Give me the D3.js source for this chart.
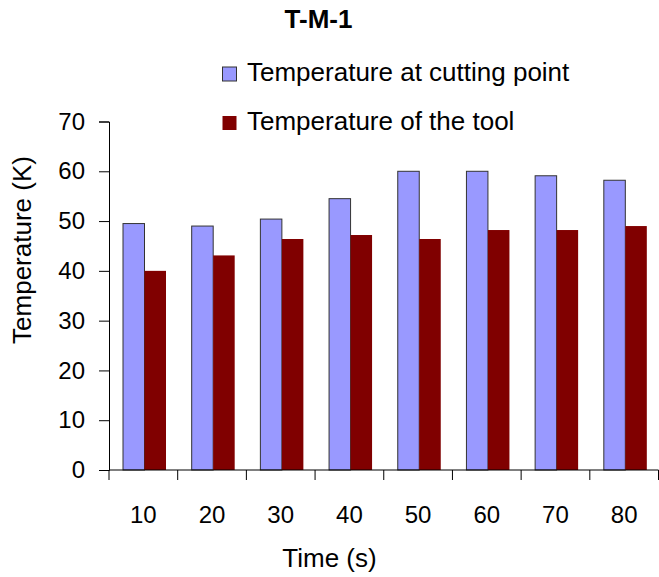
<!DOCTYPE html>
<html>
<head>
<meta charset="utf-8">
<script src="https://cdn.jsdelivr.net/npm/d3@7"></script>
<style>
  body { margin: 0; background: #fff; }
  svg text { font-family: "Liberation Sans", Arial, sans-serif; fill: #000; }
</style>
</head>
<body>
<svg id="chart" width="659" height="577"></svg>
<script>
// data
const times = ["10", "20", "30", "40", "50", "60", "70", "80"];
const cuttingPoint = [49.5, 49.0, 50.4, 54.5, 60.0, 60.0, 59.1, 58.2];
const toolTemp = [40.0, 43.1, 46.4, 47.2, 46.4, 48.2, 48.2, 49.0];
const seriesNames = ["Temperature at cutting point", "Temperature of the tool"];
const yTicks = [0, 10, 20, 30, 40, 50, 60, 70];

const colors = ["#9999ff", "#800000"];

const svg = d3.select("#chart");
const margin = { top: 121.5, left: 109, right: 0, bottom: 107 };
const width = 658.5 - margin.left - margin.right;
const height = 577 - margin.top - margin.bottom;

const g = svg.append("g").attr("transform", "translate(" + margin.left + "," + margin.top + ")");

const x = d3.scaleBand().domain(times).range([0, width]).padding(0);
const x1 = d3.scaleBand().domain([0, 1]).range([14, 57]).padding(0);
const y = d3.scaleLinear().domain([0, 70]).range([height, 0]);

// bars
const rows = times.map((t, i) => ({ t: t, vals: [cuttingPoint[i], toolTemp[i]] }));
const grp = g.selectAll(".cat").data(rows).enter().append("g")
  .attr("transform", d => "translate(" + x(d.t) + ",0)");
grp.selectAll("rect").data(d => d.vals.map((v, k) => ({ k: k, v: v }))).enter().append("rect")
  .attr("x", d => x1(d.k))
  .attr("y", d => y(d.v))
  .attr("width", x1.bandwidth())
  .attr("height", d => height - y(d.v))
  .attr("fill", d => colors[d.k])
  .attr("stroke", d => d.k === 0 ? "#333" : "none")
  .attr("stroke-width", 1);

// y axis
const yAxis = g.append("g")
  .call(d3.axisLeft(y).tickValues(yTicks).tickSize(10).tickPadding(14));
yAxis.select(".domain").attr("stroke", "#000");
yAxis.selectAll("text").style("font-size", "24px");

// x axis with ticks at category boundaries
const xAxis = g.append("g").attr("transform", "translate(0," + height + ")");
xAxis.append("line").attr("x1", 0).attr("x2", width).attr("stroke", "#000");
xAxis.selectAll(".tk").data(times.concat(["end"])).enter().append("line")
  .attr("x1", (d, i) => i * x.bandwidth()).attr("x2", (d, i) => i * x.bandwidth())
  .attr("y1", 0).attr("y2", 10).attr("stroke", "#000");
xAxis.selectAll(".lbl").data(times).enter().append("text")
  .attr("x", d => x(d) + x.bandwidth() / 2)
  .attr("y", 53)
  .attr("text-anchor", "middle")
  .style("font-size", "24px")
  .text(d => d);

// titles
svg.append("text").attr("x", 318.5).attr("y", 28).attr("text-anchor", "middle")
  .style("font-size", "26px").style("font-weight", "bold").text("T-M-1");
svg.append("text").attr("x", 329.5).attr("y", 567).attr("text-anchor", "middle")
  .style("font-size", "26px").text("Time (s)");
svg.append("text").attr("transform", "translate(31,250) rotate(-90)").attr("text-anchor", "middle")
  .style("font-size", "26px").text("Temperature (K)");

// legend
const leg = svg.append("g");
seriesNames.forEach((name, i) => {
  const ly = 67 + i * 49;
  leg.append("rect").attr("x", 222.5).attr("y", ly).attr("width", 14).attr("height", 14)
    .attr("fill", colors[i]).attr("stroke", i === 0 ? "#333" : "none");
  leg.append("text").attr("x", 247).attr("y", ly + 14).style("font-size", "26px").text(name);
});
</script>
</body>
</html>
